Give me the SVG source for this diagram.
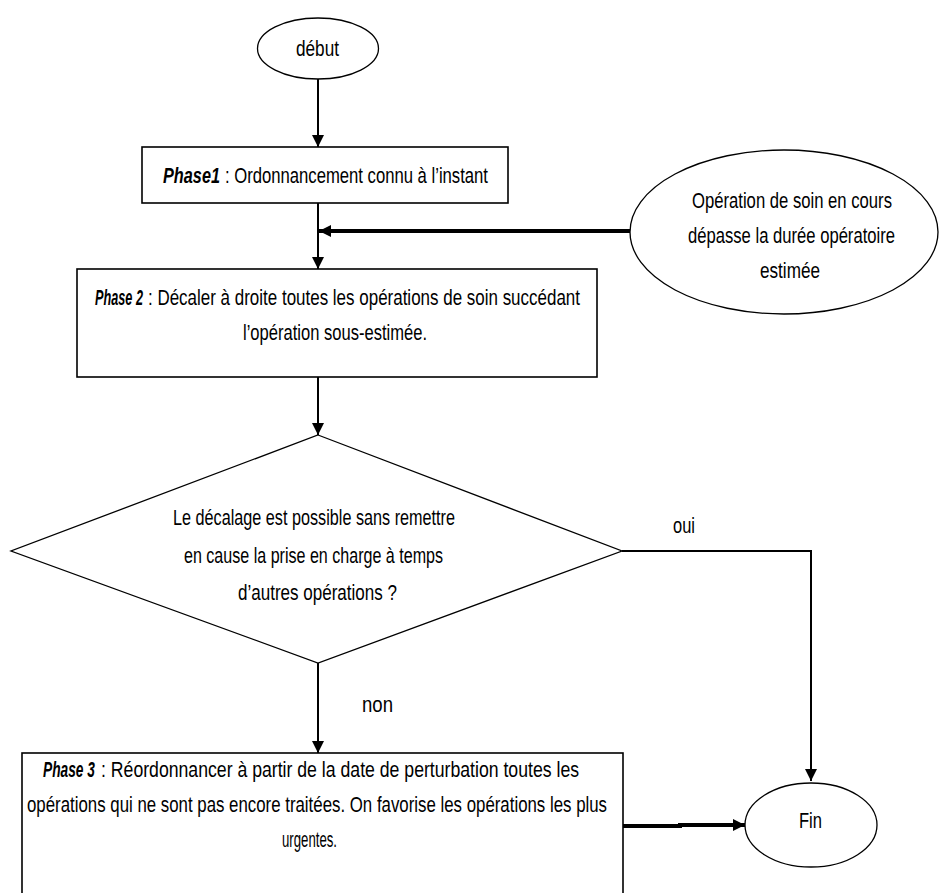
<svg xmlns="http://www.w3.org/2000/svg" width="939" height="893" viewBox="0 0 939 893">
<style>
.shape{fill:#fff;stroke:#000;stroke-width:1.3}
.box{fill:#fff;stroke:#000;stroke-width:1.6}
.t{font-family:"Liberation Sans",Arial,sans-serif;font-size:22px;fill:#000}
.bi{font-weight:bold;font-style:italic}
.c{fill:none;stroke:#000;stroke-width:2}
.thick{fill:none;stroke:#000;stroke-width:4}
</style>
<defs>
<marker id="ah" markerUnits="userSpaceOnUse" markerWidth="12" markerHeight="12" viewBox="0 0 12 12" refX="12" refY="6" orient="auto">
<path d="M0,0 L12,6 L0,12 Z" fill="#000"/>
</marker>
</defs>
<rect width="939" height="893" fill="#fff"/>
<g id="connectors">
<line class="c" x1="318" y1="79" x2="318" y2="147" marker-end="url(#ah)"/>
<line class="c" x1="318" y1="203" x2="318" y2="269" marker-end="url(#ah)"/>
<line class="thick" x1="631" y1="231" x2="319" y2="231" marker-end="url(#ah)"/>
<line class="c" x1="318" y1="377" x2="318" y2="435" marker-end="url(#ah)"/>
<polyline class="c" points="622,551 811,551 811,781" marker-end="url(#ah)"/>
<line class="c" x1="318" y1="663" x2="318" y2="753" marker-end="url(#ah)"/>
<path class="thick" d="M623,826 H680 V825 H745" stroke-width="3.5" marker-end="url(#ah)"/>
<text class="t" transform="translate(673,533) scale(0.75,1)" textLength="29.3" lengthAdjust="spacingAndGlyphs">oui</text>
<text class="t" transform="translate(362,712) scale(0.845,1)" textLength="36.7" lengthAdjust="spacingAndGlyphs">non</text>
</g>
<g id="debut">
<ellipse class="shape" cx="318" cy="48.5" rx="60.5" ry="30.5"/>
<text class="t" transform="translate(296,56) scale(0.78,1)" textLength="55.1" lengthAdjust="spacingAndGlyphs">début</text>
</g>
<g id="phase1">
<rect class="box" x="142" y="147" width="366" height="56"/>
<text class="t bi" transform="translate(163,183) scale(0.74,1)" textLength="77" lengthAdjust="spacingAndGlyphs">Phase1</text>
<text class="t" transform="translate(225,183) scale(0.757,1)" textLength="347.4" lengthAdjust="spacingAndGlyphs">: Ordonnancement connu à l’instant</text>
</g>
<g id="evenement">
<ellipse class="shape" cx="784" cy="232" rx="154" ry="82"/>
<text class="t" transform="translate(692,208) scale(0.757,1)" textLength="264.2" lengthAdjust="spacingAndGlyphs">Opération de soin en cours</text>
<text class="t" transform="translate(688,243) scale(0.756,1)" textLength="273.8" lengthAdjust="spacingAndGlyphs">dépasse la durée opératoire</text>
<text class="t" transform="translate(760,278) scale(0.78,1)" textLength="76.9" lengthAdjust="spacingAndGlyphs">estimée</text>
</g>
<g id="phase2">
<rect class="box" x="77" y="269" width="520" height="108"/>
<text class="t bi" transform="translate(95,305) scale(0.577,1)" textLength="83.2" lengthAdjust="spacingAndGlyphs">Phase 2</text>
<text class="t" transform="translate(148,305) scale(0.771,1)" textLength="560.3" lengthAdjust="spacingAndGlyphs">: Décaler à droite toutes les opérations de soin succédant</text>
<text class="t" transform="translate(243,340) scale(0.752,1)" textLength="244.7" lengthAdjust="spacingAndGlyphs">l’opération sous-estimée.</text>
</g>
<g id="decision">
<polygon class="shape" points="318,435 622,551 318,663 11,551"/>
<text class="t" transform="translate(173,525) scale(0.737,1)" textLength="382.6" lengthAdjust="spacingAndGlyphs">Le décalage est possible sans remettre</text>
<text class="t" transform="translate(184,563) scale(0.730,1)" textLength="354.8" lengthAdjust="spacingAndGlyphs">en cause la prise en charge à temps</text>
<text class="t" transform="translate(238,600) scale(0.774,1)" textLength="205.4" lengthAdjust="spacingAndGlyphs">d’autres opérations ?</text>
</g>
<g id="phase3">
<rect class="box" x="22" y="753" width="601" height="150"/>
<text class="t bi" transform="translate(43,777) scale(0.625,1)" textLength="83.2" lengthAdjust="spacingAndGlyphs">Phase 3</text>
<text class="t" transform="translate(101,777) scale(0.795,1)" textLength="601.3" lengthAdjust="spacingAndGlyphs">: Réordonnancer à partir de la date de perturbation toutes les</text>
<text class="t" transform="translate(27,812) scale(0.765,1)" textLength="758.2" lengthAdjust="spacingAndGlyphs">opérations qui ne sont pas encore traitées. On favorise les opérations les plus</text>
<text class="t" transform="translate(282,847) scale(0.6,1)" textLength="91.7" lengthAdjust="spacingAndGlyphs">urgentes.</text>
</g>
<g id="fin">
<ellipse class="shape" cx="811" cy="825" rx="66" ry="42"/>
<text class="t" transform="translate(799,828) scale(0.75,1)" textLength="30.7" lengthAdjust="spacingAndGlyphs">Fin</text>
</g>
</svg>
